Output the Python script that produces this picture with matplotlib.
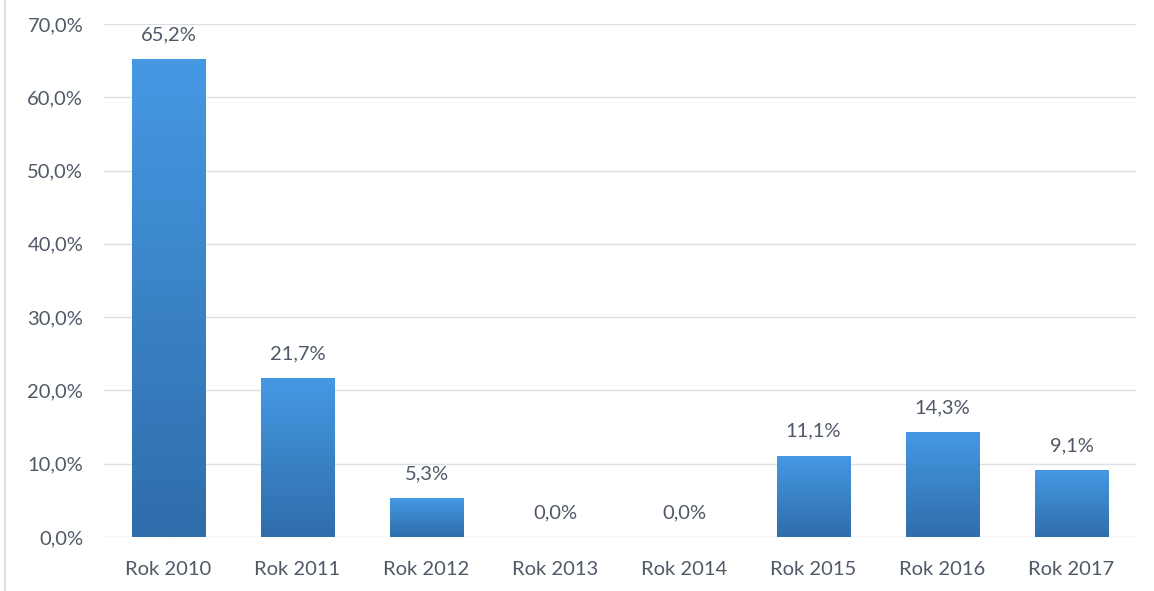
import matplotlib
matplotlib.use("Agg")
import matplotlib.pyplot as plt
import numpy as np
from matplotlib.colors import LinearSegmentedColormap

categories = ["Rok 2010", "Rok 2011", "Rok 2012", "Rok 2013", "Rok 2014", "Rok 2015", "Rok 2016", "Rok 2017"]
values = [65.2, 21.7, 5.3, 0.0, 0.0, 11.1, 14.3, 9.1]
yticks = [0, 10, 20, 30, 40, 50, 60, 70]

plt.rcParams['font.family'] = ['Lato', 'DejaVu Sans']
text_color = "#4f5967"
fs = 14.5

fig = plt.figure(figsize=(11.54, 5.91), dpi=100)
ax = fig.add_axes([104/1154, 1-537/591, 1032/1154, 513/591])

x = np.arange(len(categories))
bars = ax.bar(x, values, width=0.57, color="none", edgecolor="none", zorder=3)

cmap = LinearSegmentedColormap.from_list("g", ["#2f6dab", "#4599e3"])
grad = np.linspace(0, 1, 256).reshape(-1, 1)
for b in bars:
    h = b.get_height()
    if h <= 0:
        continue
    x0 = b.get_x(); w = b.get_width()
    im = ax.imshow(grad, cmap=cmap, aspect="auto", origin="lower",
                   extent=[x0, x0 + w, 0, h], zorder=3, interpolation="bilinear")
    im.set_clip_path(b)

for xi, v in zip(x, values):
    ax.annotate(f"{v:.1f}%".replace(".", ","), (xi, v), xytext=(0, 11.5),
                textcoords="offset points", ha="center", va="bottom",
                fontsize=fs, color=text_color)

ax.set_xlim(-0.5, len(categories) - 0.5)
ax.set_ylim(0, 70)
ax.set_yticks(yticks)
ax.set_yticklabels([f"{t:.1f}%".replace(".", ",") for t in yticks])
ax.set_xticks(x)
ax.set_xticklabels(categories)
ax.tick_params(axis="both", length=0, labelsize=fs, labelcolor=text_color)
ax.tick_params(axis="y", pad=15)
ax.tick_params(axis="x", pad=17)
ax.grid(axis="y", color="#dcdfe3", linewidth=1.0, zorder=0)
ax.set_axisbelow(True)
for s in ax.spines.values():
    s.set_visible(False)

fig.add_artist(plt.Line2D([5/1154, 5/1154], [0, 1], transform=fig.transFigure,
                          color="#dfe3e8", linewidth=1.5))

fig.savefig("out.png", dpi=100)
